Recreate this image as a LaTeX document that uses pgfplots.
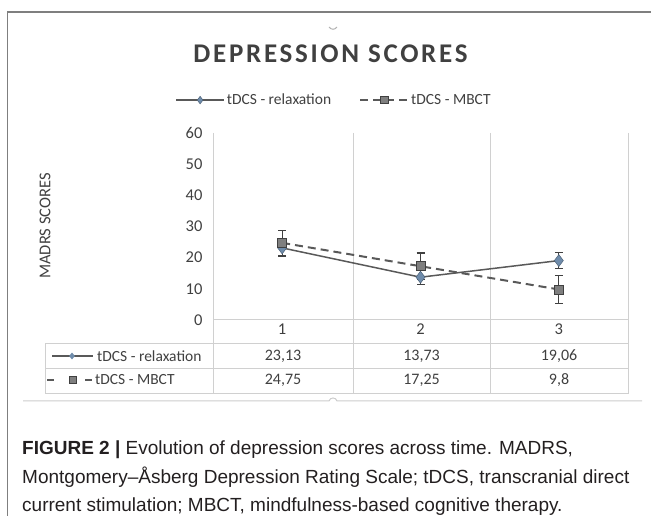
\documentclass[border=0pt]{standalone}
\usepackage{fontspec}
\setmainfont{Carlito}
\newfontfamily\capfont{Liberation Sans}
\newfontfamily\titlefont[LetterSpace=10]{Carlito}
\usepackage{pgfplots}
\pgfplotsset{compat=1.18}
\usetikzlibrary{shapes.geometric}
\definecolor{txt}{HTML}{404040}
\definecolor{ln}{HTML}{595959}
\definecolor{gridc}{HTML}{D0D0D0}
\definecolor{dia}{HTML}{6F8CAB}
\definecolor{sq}{HTML}{7F7F7F}
\definecolor{framec}{HTML}{7F7F7F}
\definecolor{captxt}{HTML}{231F20}
\begin{document}
\begin{tikzpicture}
\path[use as bounding box] (0,0) rectangle (651pt,516pt);
\begin{scope}[shift={(0pt,516pt)},x=1pt,y=-1pt]
% outer frame
\draw[framec,line width=1.5pt] (651,12) -- (7.5,12) -- (7.5,516);
\draw[gray!60,line width=1pt] (329,27) .. controls (331,30) and (335,30) .. (337,27);
% title
\node[anchor=base,inner sep=0,text=txt,font=\titlefont\bfseries\fontsize{27}{27}\selectfont] at (330.5,62.5) {DEPRESSION SCORES};
% grid and data table lines
\foreach \xx in {213,353,490,628} \draw[gridc,line width=1pt] (\xx,133) -- (\xx,394);
\draw[gridc,line width=1pt] (213,320) -- (628,320);
\foreach \yy in {344,369,394} \draw[gridc,line width=1pt] (45,\yy) -- (628,\yy);
\draw[gridc,line width=1pt] (45,344) -- (45,394);
% y label
\node[rotate=90,text=txt,font=\fontsize{16.5}{18}\selectfont] at (45,226) {MADRS SCORES};
% table keys
\draw[ln,line width=1.5pt] (52,356) -- (93,356);
\node[diamond,fill=dia,inner sep=0pt,minimum width=6pt,minimum height=7pt] at (72,356) {};
\draw[ln,line width=2pt] (47,380) -- (54,380);
\draw[ln,line width=2pt] (85,380) -- (92,380);
\node[rectangle,fill=sq,draw=txt,line width=0.6pt,inner sep=0pt,minimum size=7pt] at (72.5,380) {};
\node[anchor=west,inner sep=0pt,text=txt,font=\fontsize{15.5}{18}\selectfont] at (97,356) {tDCS - relaxation};
\node[anchor=west,inner sep=0pt,text=txt,font=\fontsize{15.5}{18}\selectfont] at (95,380) {tDCS - MBCT};
% table values
\foreach \xx/\va/\vb in {283/{23,13}/{24,75},421.5/{13,73}/{17,25},559/{19,06}/{9,8}}{
  \node[text=txt,font=\fontsize{16}{18}\selectfont] at (\xx,356) {\va};
  \node[text=txt,font=\fontsize{16}{18}\selectfont] at (\xx,380) {\vb};
}
% bottom chart line
\draw[gray!40,line width=1pt] (23,401) -- (329,401) .. controls (330,397) and (336,397) .. (337,401) -- (642,401);
% caption
\node[anchor=base west,inner sep=0pt,text=captxt,font=\capfont\fontsize{19}{22}\selectfont] at (22,455) {\textbf{FIGURE 2 |} Evolution of depression scores across time. MADRS,};
\node[anchor=base west,inner sep=0pt,text=captxt,font=\capfont\fontsize{19}{22}\selectfont] at (22,483.5) {Montgomery–Åsberg Depression Rating Scale; tDCS, transcranial direct};
\node[anchor=base west,inner sep=0pt,text=captxt,font=\capfont\fontsize{19}{22}\selectfont] at (22,512) {current stimulation; MBCT, mindfulness-based cognitive therapy.};
\end{scope}
\begin{axis}[
  at={(213pt,196pt)}, anchor=south west,
  scale only axis, width=415pt, height=187pt,
  xmin=0.5, xmax=3.5, ymin=0, ymax=60,
  axis line style={draw=none},
  major tick length=0pt,
  xtick={1,2,3}, ytick={0,10,20,30,40,50,60},
  /pgf/number format/assume math mode=true,
  ticklabel style={font=\fontsize{16.5}{18}\selectfont, text=txt},
  yticklabel style={xshift=-7pt},
  xticklabel style={yshift=0pt},
  clip=false,
  legend columns=2,
  legend style={at={(0.2916,1.176)}, anchor=center, draw=none, fill=none,
    font=\fontsize{15.5}{18}\selectfont, text=txt,
    /tikz/every even column/.append style={column sep=26pt}},
  legend image code/.code={\draw[mark repeat=2,mark phase=2,#1] plot coordinates {(0pt,0pt) (24pt,0pt) (48pt,0pt)};},
  legend image post style={mark size=3.8pt},
]
\addplot[ln, line width=1.5pt, mark=diamond*, mark size=6pt,
  mark options={fill=dia, draw=dia!70!black, solid, line width=0.5pt},
  error bars/.cd, y dir=both, y explicit,
  error bar style={line width=1.2pt, txt, solid},
  error mark options={rotate=90, mark size=4pt, line width=1.2pt, txt}]
  coordinates {(1,23.13) +- (0,2.6) (2,13.73) +- (0,2.3) (3,19.06) +- (0,2.6)};
\addlegendentry{tDCS - relaxation}
\addplot[ln, line width=2pt, dash pattern=on 8pt off 5pt, mark=square*, mark size=4.5pt,
  mark options={fill=sq, draw=txt, solid, line width=0.8pt},
  error bars/.cd, y dir=both, y explicit,
  error bar style={line width=1.2pt, txt, solid},
  error mark options={rotate=90, mark size=4pt, line width=1.2pt, txt}]
  coordinates {(1,24.75) +- (0,4.0) (2,17.25) +- (0,4.25) (3,9.8) +- (0,4.5)};
\addlegendentry{tDCS - MBCT}
\end{axis}
\end{tikzpicture}
\end{document}
